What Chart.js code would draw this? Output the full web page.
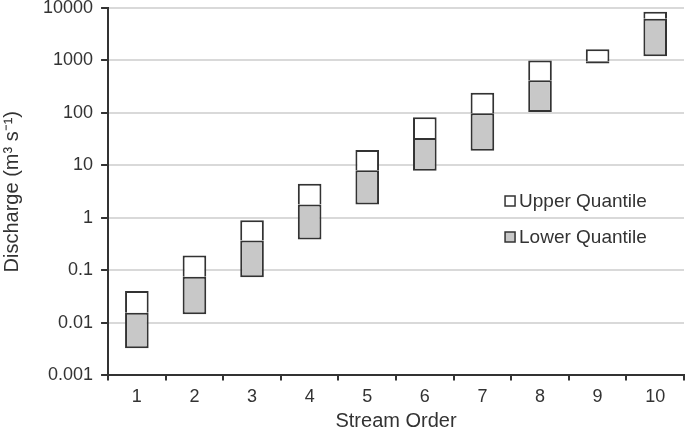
<!DOCTYPE html>
<html>
<head>
<meta charset="utf-8">
<script src="https://cdn.jsdelivr.net/npm/chart.js@4.4.1/dist/chart.umd.min.js"></script>
<style>
  html, body { margin: 0; padding: 0; background: #fff; }
  #wrap { width: 685px; height: 437px; }
</style>
</head>
<body>
<div id="wrap"><canvas id="quantiles"></canvas></div>
<script>
const streamOrders = ['1', '2', '3', '4', '5', '6', '7', '8', '9', '10'];
// 25th percentile, median, 75th percentile of discharge (m3/s)
const lowerBound = [0.0033, 0.0146, 0.074, 0.39, 1.81, 7.9, 19, 104, 880, 1210];
const medianValue = [0.0157, 0.076, 0.37, 1.81, 8.1, 33.4, 99, 420, 970, 6240];
const upperBound = [0.0405, 0.192, 0.90, 4.5, 19.7, 83, 244, 1000, 1630, 8490];
const decadeTicks = [0.001, 0.01, 0.1, 1, 10, 100, 1000, 10000];

const dark = '#333333';
const grayFill = '#c8c8c8';
const fontFamily = '"Liberation Sans", Arial, sans-serif';

const lowerData = streamOrders.map((s, i) => [lowerBound[i], medianValue[i]]);
const upperData = streamOrders.map((s, i) => [medianValue[i], upperBound[i]]);

// legend drawn inside the plot area, like the original
const innerLegend = {
  id: 'innerLegend',
  afterDraw(chart) {
    const ctx = chart.ctx;
    const area = chart.chartArea;
    const items = chart.data.datasets.map(d => ({ label: d.label, fill: d.backgroundColor }));
    const x = area.left + 397;
    const rows = [area.top + 193, area.top + 229];
    ctx.save();
    ctx.font = '19px ' + fontFamily;
    ctx.textBaseline = 'middle';
    // upper first, then lower
    [items[1], items[0]].forEach((it, k) => {
      const y = rows[k];
      ctx.fillStyle = it.fill;
      ctx.fillRect(x, y - 5, 10, 10);
      ctx.strokeStyle = dark;
      ctx.lineWidth = 1.5;
      ctx.strokeRect(x, y - 5, 10, 10);
      ctx.fillStyle = dark;
      ctx.fillText(it.label, x + 14, y + 1);
    });
    ctx.restore();
  }
};

new Chart(document.getElementById('quantiles'), {
  type: 'bar',
  data: {
    labels: streamOrders,
    datasets: [{
      label: 'Lower Quantile',
      data: lowerData,
      backgroundColor: grayFill,
      borderColor: dark,
      borderWidth: 2,
      borderSkipped: false,
      grouped: false
    }, {
      label: 'Upper Quantile',
      data: upperData,
      backgroundColor: '#ffffff',
      borderColor: dark,
      borderWidth: { top: 2, left: 2, right: 2, bottom: 0 },
      borderSkipped: false,
      grouped: false
    }]
  },
  options: {
    responsive: true,
    maintainAspectRatio: false,
    animation: false,
    layout: { padding: { top: 8, right: 1, left: 0, bottom: 4 } },
    datasets: {
      bar: { categoryPercentage: 1, barPercentage: 0.41 }
    },
    scales: {
      x: {
        offset: true,
        border: { color: dark, width: 2 },
        grid: { offset: true, drawOnChartArea: false, tickLength: 5, tickColor: dark, lineWidth: 2 },
        ticks: { color: dark, padding: 6, font: { family: fontFamily, size: 18 } },
        title: {
          display: true,
          text: 'Stream Order',
          color: dark,
          padding: { top: -5, bottom: 0 },
          font: { family: fontFamily, size: 20 }
        }
      },
      y: {
        type: 'logarithmic',
        min: 0.001,
        max: 10000,
        border: { color: dark, width: 2 },
        grid: { color: '#d9d9d9', lineWidth: 2, tickLength: 7, tickColor: dark },
        afterBuildTicks(scale) {
          scale.ticks = decadeTicks.map(v => ({ value: v }));
        },
        afterFit(scale) {
          scale.paddingTop = 0;
          scale.paddingBottom = 0;
        },
        ticks: {
          color: dark,
          padding: 8,
          font: { family: fontFamily, size: 18 },
          callback: function(value) {
            return value.toString();
          }
        },
        title: {
          display: true,
          text: 'Discharge (m³ s⁻¹)',
          color: dark,
          padding: { top: 0, bottom: 11 },
          font: { family: fontFamily, size: 20 }
        }
      }
    },
    plugins: {
      legend: { display: false },
      tooltip: { enabled: false }
    }
  },
  plugins: [innerLegend]
});
</script>
</body>
</html>
